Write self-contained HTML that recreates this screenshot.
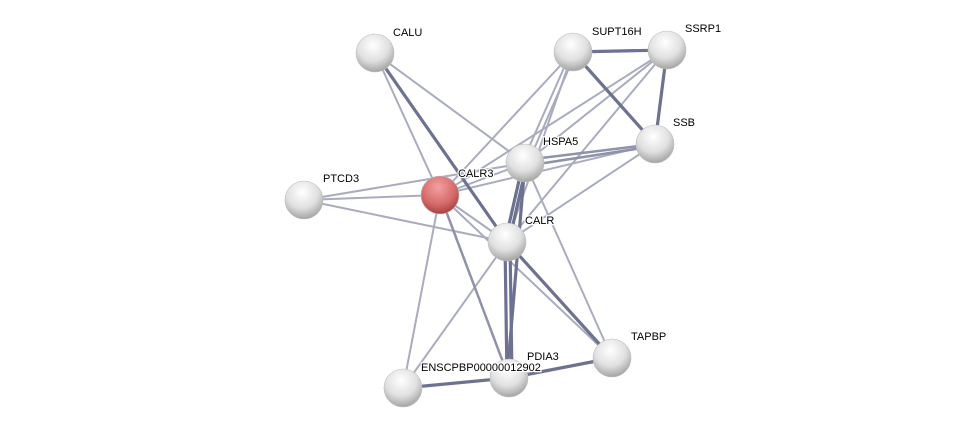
<!DOCTYPE html>
<html><head><style>body{margin:0;background:#fff}svg{display:block}text{font-family:"Liberation Sans",sans-serif;font-size:11px;fill:#000;stroke:#fff;stroke-width:2.5px;paint-order:stroke}</style></head>
<body>
<svg width="976" height="434" viewBox="0 0 976 434">
<defs>
<radialGradient id="g" cx="0.45" cy="0.3" r="0.75">
<stop offset="0" stop-color="#ffffff"/><stop offset="0.55" stop-color="#e0e0e0"/><stop offset="1" stop-color="#9a9a9a"/></radialGradient>
<radialGradient id="r" cx="0.45" cy="0.3" r="0.75">
<stop offset="0" stop-color="#f3a0a0"/><stop offset="0.6" stop-color="#d66a6a"/><stop offset="1" stop-color="#9e3b3b"/></radialGradient>
</defs>
<g stroke-linecap="round">
<g stroke="#a9acbf" stroke-width="2">
<line x1="375" y1="53" x2="440" y2="195"/>
<line x1="375" y1="53" x2="525" y2="163"/>
<line x1="573" y1="52" x2="440" y2="195"/>
<line x1="571" y1="52" x2="522" y2="163"/>
<line x1="576" y1="52" x2="528" y2="163"/>
<line x1="573" y1="52" x2="507" y2="242"/>
<line x1="667" y1="50" x2="525" y2="163"/>
<line x1="667" y1="50" x2="440" y2="195"/>
<line x1="667" y1="50" x2="507" y2="242"/>
<line x1="655" y1="144" x2="440" y2="195"/>
<line x1="655" y1="144" x2="507" y2="242"/>
<line x1="304" y1="200" x2="440" y2="195"/>
<line x1="304" y1="200" x2="525" y2="163"/>
<line x1="304" y1="200" x2="507" y2="242"/>
<line x1="525" y1="163" x2="612" y2="358"/>
<line x1="525" y1="163" x2="440" y2="195"/>
<line x1="440" y1="195" x2="507" y2="242"/>
<line x1="440" y1="195" x2="403" y2="388"/>
<line x1="440" y1="195" x2="612" y2="358"/>
<line x1="507" y1="242" x2="403" y2="388"/>
</g>
<g stroke="#8e92aa" stroke-width="2.5">
<line x1="655" y1="144" x2="525" y2="160"/>
<line x1="655" y1="146" x2="525" y2="166"/>
<line x1="440" y1="195" x2="509" y2="378"/>
</g>
<g stroke="#6d7290" stroke-width="3.2">
<line x1="375" y1="53" x2="507" y2="242"/>
<line x1="573" y1="52" x2="667" y2="50"/>
<line x1="573" y1="52" x2="655" y2="144"/>
<line x1="667" y1="50" x2="655" y2="144"/>
<line x1="523" y1="163" x2="505" y2="242"/>
<line x1="527" y1="163" x2="509" y2="242"/>
<line x1="525" y1="163" x2="507" y2="378"/>
<line x1="505" y1="242" x2="507" y2="378"/>
<line x1="510" y1="242" x2="512" y2="378"/>
<line x1="507" y1="242" x2="612" y2="358"/>
<line x1="509" y1="378" x2="612" y2="358"/>
<line x1="403" y1="388" x2="509" y2="378"/>
</g>
</g>
<g stroke="#bdbdbd" stroke-width="0.6">
<circle cx="375" cy="53" r="19" fill="url(#g)"/>
<circle cx="573" cy="52" r="19" fill="url(#g)"/>
<circle cx="667" cy="50" r="19" fill="url(#g)"/>
<circle cx="655" cy="144" r="19" fill="url(#g)"/>
<circle cx="525" cy="163" r="19" fill="url(#g)"/>
<circle cx="440" cy="195" r="19" fill="url(#r)"/>
<circle cx="304" cy="200" r="19" fill="url(#g)"/>
<circle cx="507" cy="242" r="19" fill="url(#g)"/>
<circle cx="612" cy="358" r="19" fill="url(#g)"/>
<circle cx="509" cy="378" r="19" fill="url(#g)"/>
<circle cx="403" cy="388" r="19" fill="url(#g)"/>
</g>
<text x="393" y="36">CALU</text>
<text x="592" y="35">SUPT16H</text>
<text x="685" y="32">SSRP1</text>
<text x="673" y="126">SSB</text>
<text x="543" y="145">HSPA5</text>
<text x="458" y="177">CALR3</text>
<text x="323" y="182">PTCD3</text>
<text x="525" y="224">CALR</text>
<text x="631" y="340">TAPBP</text>
<text x="527" y="360">PDIA3</text>
<text x="421" y="371">ENSCPBP00000012902</text>
</svg>
</body></html>
